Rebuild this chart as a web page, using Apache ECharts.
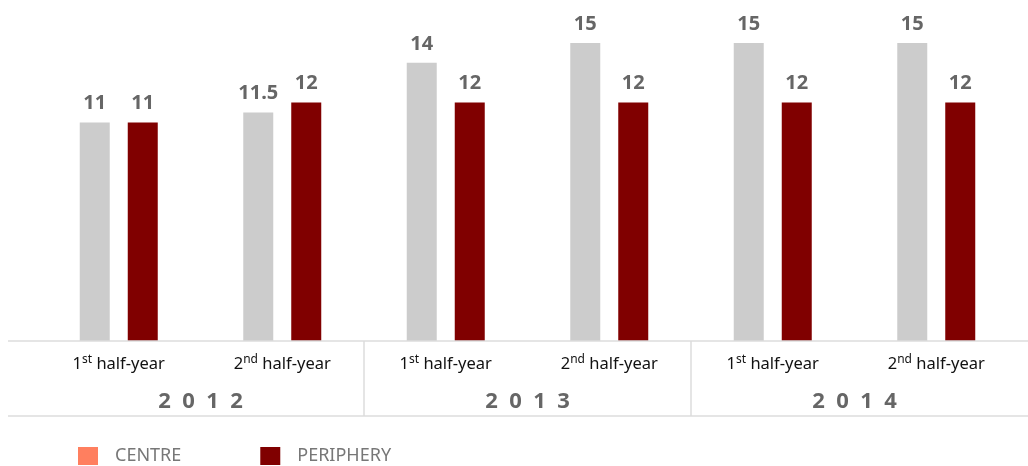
<!DOCTYPE html>
<html>
<head>
<meta charset="utf-8">
<script src="https://cdn.jsdelivr.net/npm/echarts@6/dist/echarts.min.js"></script>
<style>
  html, body { margin: 0; padding: 0; background: #fff; }
  #chart { width: 1028px; height: 466px; }
</style>
</head>
<body>
<div id="chart"></div>
<script>
// half-year categories, years and the two series
const halfYears = ["1st", "2nd", "1st", "2nd", "1st", "2nd"];
const years = ["2  0  1  2", "2  0  1  3", "2  0  1  4"];
const centre = [11, 11.5, 14, 15, 15, 15];
const periphery = [11, 12, 12, 12, 12, 12];

const font = "'Noto Sans', 'Open Sans', sans-serif";
const lineColor = "#dcdcdc";

const chart = echarts.init(document.getElementById("chart"));

function halfLabel(v) {
  const n = v.charAt(0);
  const suf = v.slice(1);
  return "{a|" + n + "}{s|" + suf + "}{a| half-year}";
}

const valueLabel = {
  show: true,
  position: "top",
  distance: 9,
  color: "#666",
  fontWeight: "bold",
  fontSize: 20,
  fontFamily: font
};

const option = {
  animation: false,
  grid: { left: 37, right: 10, top: 43, bottom: 125 },
  legend: {
    left: 78,
    top: 447,
    padding: 0,
    itemWidth: 20,
    itemHeight: 18,
    itemGap: 79,
    icon: "rect",
    textStyle: { color: "#777", fontSize: 18, fontFamily: font, padding: [5, 0, 0, 12] },
    data: [
      { name: "CENTRE", itemStyle: { color: "#ff7f5f" } },
      { name: "PERIPHERY", itemStyle: { color: "#800000" } }
    ]
  },
  xAxis: [
    {
      type: "category",
      data: halfYears,
      axisLine: { show: false },
      axisTick: { show: false },
      axisLabel: {
        margin: 13,
        formatter: halfLabel,
        rich: {
          a: { fontSize: 16.5, color: "#111", fontFamily: font, lineHeight: 20 },
          s: { fontSize: 12, color: "#111", fontFamily: font, verticalAlign: "top", lineHeight: 20, padding: [0, 0, 6, 0] }
        }
      }
    },
    {
      type: "category",
      data: years,
      position: "bottom",
      axisLine: { show: false },
      axisTick: { show: false },
      axisLabel: {
        margin: 50,
        color: "#666",
        fontWeight: "bold",
        fontSize: 22,
        fontFamily: font
      }
    }
  ],
  yAxis: {
    type: "value",
    min: 0,
    max: 15,
    show: false,
    splitLine: { show: false }
  },
  series: [
    {
      name: "CENTRE",
      type: "bar",
      data: centre,
      barWidth: 30,
      barGap: "60%",
      itemStyle: { color: "#cccccc" },
      label: valueLabel
    },
    {
      name: "PERIPHERY",
      type: "bar",
      data: periphery,
      barWidth: 30,
      barGap: "60%",
      itemStyle: { color: "#800000" },
      label: valueLabel
    }
  ]
};

chart.setOption(option);

// frame lines under the axis, dividers between years
const baseY = chart.convertToPixel({ yAxisIndex: 0 }, 0);
const bottomY = baseY + 75;
const d1 = (chart.convertToPixel({ xAxisIndex: 0 }, 1) + chart.convertToPixel({ xAxisIndex: 0 }, 2)) / 2;
const d2 = (chart.convertToPixel({ xAxisIndex: 0 }, 3) + chart.convertToPixel({ xAxisIndex: 0 }, 4)) / 2;
const ls = { stroke: lineColor, lineWidth: 1.5 };
chart.setOption({
  graphic: [
    { type: "line", shape: { x1: 8, y1: baseY, x2: 1028, y2: baseY }, style: ls, z: 10 },
    { type: "line", shape: { x1: 8, y1: bottomY, x2: 1028, y2: bottomY }, style: ls },
    { type: "line", shape: { x1: d1, y1: baseY, x2: d1, y2: bottomY }, style: ls },
    { type: "line", shape: { x1: d2, y1: baseY, x2: d2, y2: bottomY }, style: ls }
  ]
});
</script>
</body>
</html>
